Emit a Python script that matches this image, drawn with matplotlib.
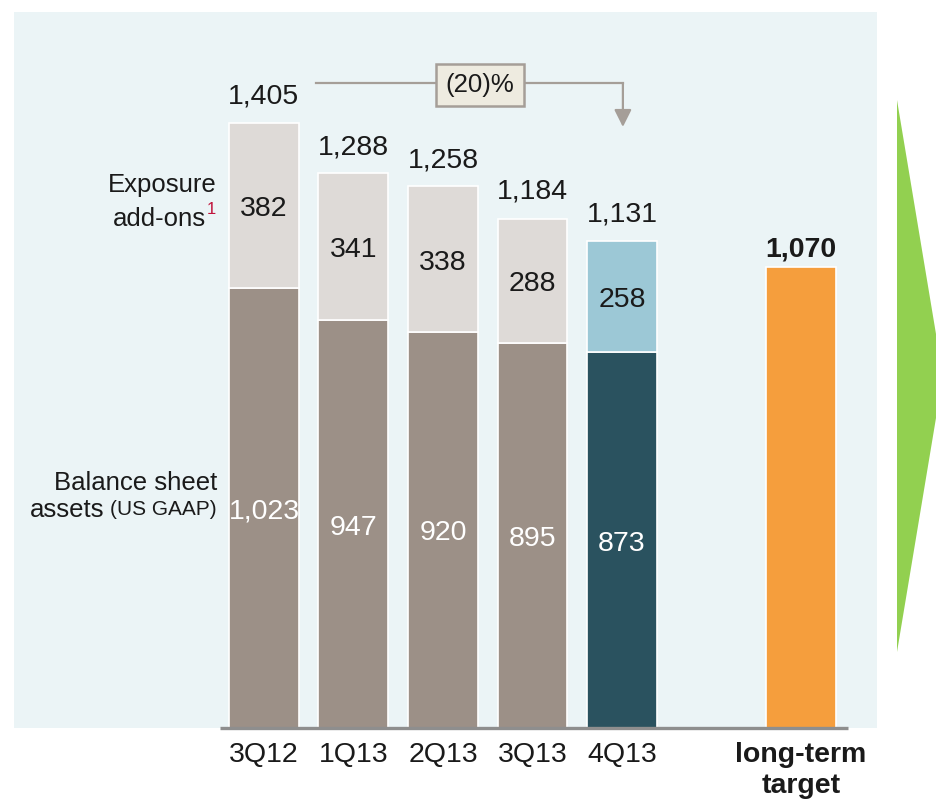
import matplotlib
matplotlib.use("Agg")
import matplotlib.pyplot as plt
from matplotlib.patches import Polygon

plt.rcParams['font.family'] = ['Liberation Sans', 'DejaVu Sans']

categories = ["3Q12", "1Q13", "2Q13", "3Q13", "4Q13", "long-term\ntarget"]
positions = [0, 1, 2, 3, 4, 6]
balance_sheet = [1023, 947, 920, 895, 873]
addons = [382, 341, 338, 288, 258]
totals = [1405, 1288, 1258, 1184, 1131]
target = 1070
change_label = "(20)%"

c_bal = "#9C9087"
c_add = "#DEDAD7"
c_bal_cur = "#2A525F"
c_add_cur = "#9CC8D6"
c_target = "#F59E3D"
c_panel = "#EBF4F6"
c_green = "#92D050"
c_line = "#A59E98"

W, H = 937, 799
fig = plt.figure(figsize=(W / 100, H / 100), dpi=100)
fig.patch.set_facecolor("white")
ax = fig.add_axes([14 / W, 71 / H, 863 / W, 716 / H])
ax.set_facecolor(c_panel)
for s in ax.spines.values():
    s.set_visible(False)

bw = 0.782
bal_colors = [c_bal] * 4 + [c_bal_cur]
add_colors = [c_add] * 4 + [c_add_cur]
ax.bar(positions[:5], balance_sheet, width=bw, color=bal_colors,
       edgecolor="white", linewidth=1.2, zorder=2)
ax.bar(positions[:5], addons, bottom=balance_sheet, width=bw, color=add_colors,
       edgecolor="white", linewidth=1.2, zorder=2)
ax.bar([positions[5]], [target], width=bw, color=c_target,
       edgecolor="white", linewidth=1.2, zorder=2)

ax.set_xlim(-2.793, 6.849)
ax.set_ylim(0, 1663)

fs = 20.5
dy = -8
for x, b, a, t in zip(positions[:5], balance_sheet, addons, totals):
    ax.text(x, b / 2 + dy, f"{b:,}", ha="center", va="center", fontsize=fs,
            color="white", zorder=3)
    ax.text(x, b + a / 2 + dy, f"{a:,}", ha="center", va="center", fontsize=fs,
            color="#1a1a1a", zorder=3)
    ax.text(x, t + 69 + dy, f"{t:,}", ha="center", va="center", fontsize=fs,
            color="#1a1a1a", zorder=3)
ax.text(positions[5], target + 49 + dy, f"{target:,}", ha="center", va="center",
        fontsize=fs, fontweight="bold", color="#1a1a1a", zorder=3)

# axis line
ax.plot([-0.49, 6.525], [0, 0], color="#8E8E8E", lw=2.4, clip_on=False,
        solid_capstyle="butt", zorder=4)

# ticks
ax.set_xticks(positions)
ax.set_xticklabels(categories, fontsize=fs, color="#1a1a1a", linespacing=1.25)
ax.tick_params(axis="x", length=0, pad=10)
ax.get_xticklabels()[-1].set_fontweight("bold")
ax.set_yticks([])

# left labels
lx = -0.525
lfs = 18.5
ax.text(lx, 1262, "Exposure", ha="right", va="center", fontsize=lfs, color="#1a1a1a")
ax.text(lx - 0.123, 1183, "add-ons", ha="right", va="center", fontsize=lfs, color="#1a1a1a")
ax.text(lx - 0.112, 1204, "1", ha="left", va="center", fontsize=12, color="#C0143C")
ax.text(lx, 570, "Balance sheet", ha="right", va="center", fontsize=lfs, color="#1a1a1a")
t_us = ax.text(lx, 507, "(US GAAP)", ha="right", va="center", fontsize=15, color="#1a1a1a")
fig.canvas.draw()
bb = t_us.get_window_extent(renderer=fig.canvas.get_renderer())
x_left = ax.transData.inverted().transform((bb.x0 - 6, bb.y0))[0]
ax.text(x_left, 507, "assets", ha="right", va="center", fontsize=lfs, color="#1a1a1a")

# change annotation
y_arr = 1498
ax.plot([0.58, 4.01], [y_arr, y_arr], color=c_line, lw=1.6, zorder=3)
ax.annotate("", xy=(4.01, 1396), xytext=(4.01, y_arr),
            arrowprops=dict(arrowstyle="-|>", color=c_line, lw=1.6,
                            mutation_scale=26, shrinkA=0, shrinkB=0), zorder=3)
ax.text(2.413, y_arr - 4, change_label, ha="center", va="center", fontsize=18.5,
        color="#1a1a1a", zorder=5,
        bbox=dict(boxstyle="square,pad=0.36", facecolor="#EEEBE0",
                  edgecolor=c_line, linewidth=1.8))

# green arrow shape on the right
tri = Polygon([(897 / W, 1 - 100 / H), (897 / W, 1 - 652 / H), (943 / W, 1 - 376 / H)],
              closed=True, transform=fig.transFigure, facecolor=c_green,
              edgecolor="none")
fig.patches.append(tri)

fig.savefig("out.png", dpi=100)
